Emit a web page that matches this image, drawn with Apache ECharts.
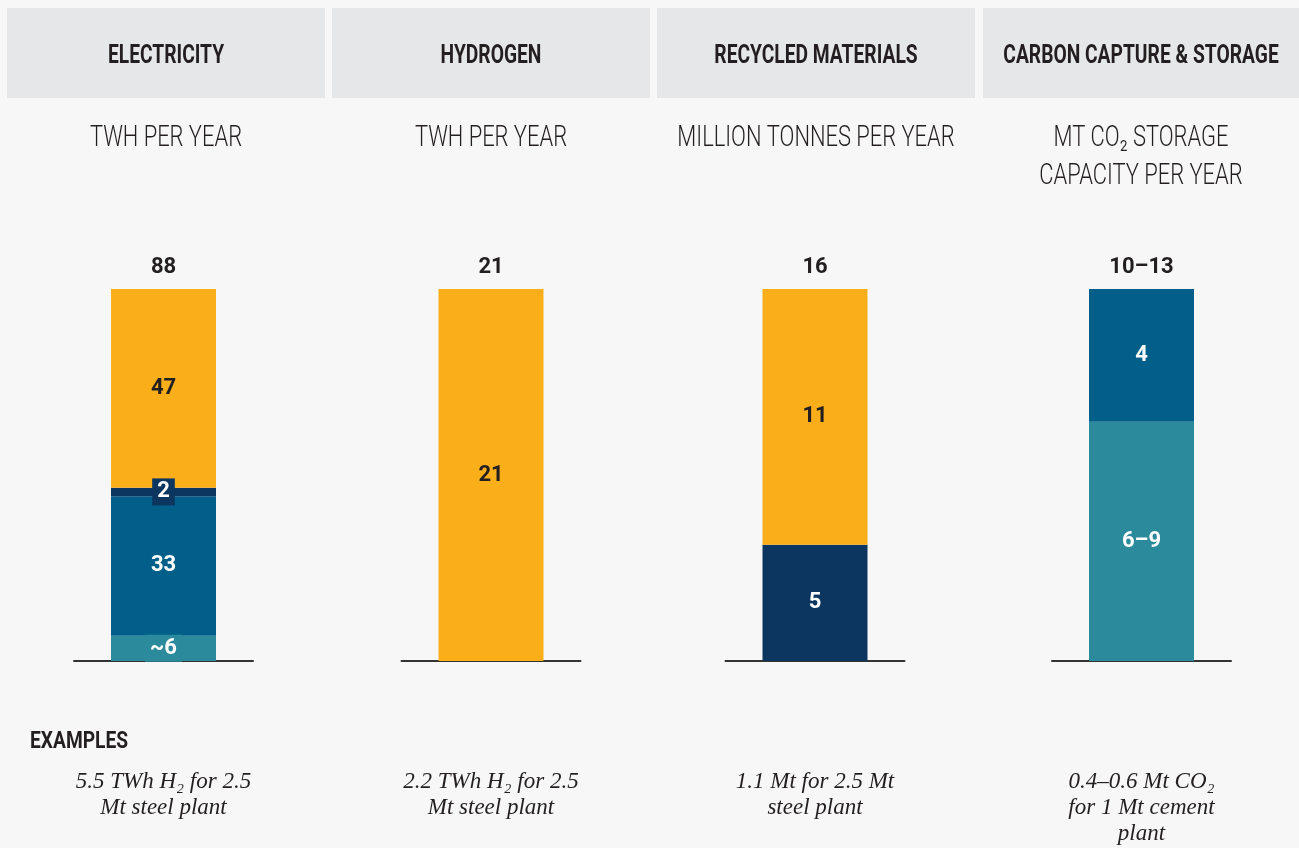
<!DOCTYPE html>
<html><head><meta charset="utf-8">
<script src="https://cdn.jsdelivr.net/npm/echarts@6/dist/echarts.min.js"></script>
<style>html,body{margin:0;padding:0;background:#f7f7f7}#c{width:1299px;height:848px}</style>
</head><body><div id="c"></div>
<script>
// ---- data ----
const panelTitles = ['ELECTRICITY', 'HYDROGEN', 'RECYCLED MATERIALS', 'CARBON CAPTURE & STORAGE'];
const unitLabels = ['TWH PER YEAR', 'TWH PER YEAR', 'MILLION TONNES PER YEAR', 'MT CO₂ STORAGE\nCAPACITY PER YEAR'];
const totalLabels = ['88', '21', '16', '10–13'];
const electricityValues = [6, 33, 2, 47];
const electricityLabels = ['~6', '33', '2', '47'];
const hydrogenValues = [21];
const hydrogenLabels = ['21'];
const recycledValues = [5, 11];
const recycledLabels = ['5', '11'];
const ccsValues = [7.2, 4];
const ccsLabels = ['6–9', '4'];
const exampleTexts = [
  '5.5 TWh H₂ for 2.5\nMt steel plant',
  '2.2 TWh H₂ for 2.5\nMt steel plant',
  '1.1 Mt for 2.5 Mt\nsteel plant',
  '0.4–0.6 Mt CO₂\nfor 1 Mt cement\nplant'
];

// ---- styling ----
const ORANGE = '#F9AE1A', NAVY = '#0C3660', BLUE = '#015F8A', TEAL = '#2B8A9C', INK = '#231f20';
const COND = "'Roboto','Liberation Sans',sans-serif";
const SERIF = "'Liberation Serif','DejaVu Serif',serif";
const panelData = [
  {values: electricityValues, labels: electricityLabels, colors: [TEAL, BLUE, NAVY, ORANGE], boxed: [true, false, true, false]},
  {values: hydrogenValues, labels: hydrogenLabels, colors: [ORANGE], boxed: [false]},
  {values: recycledValues, labels: recycledLabels, colors: [NAVY, ORANGE], boxed: [false, false]},
  {values: ccsValues, labels: ccsLabels, colors: [TEAL, BLUE], boxed: [false, false]}
];
const centers = [163.5, 491, 815, 1141.5];
const boxes = [[7, 325], [332, 650], [657, 975], [983, 1299]];

const grids = [], xAxes = [], yAxes = [], series = [], graphics = [];
panelData.forEach((p, i) => {
  const total = p.values.reduce((a, b) => a + b, 0);
  grids.push({left: centers[i] - 89.5, width: 179, top: 289, bottom: 187});
  xAxes.push({gridIndex: i, type: 'category', data: [panelTitles[i]],
    axisLine: {show: true, lineStyle: {color: '#333', width: 2}}, axisTick: {show: false}, axisLabel: {show: false}});
  xAxes.push({gridIndex: i, type: 'category', position: 'top', data: [totalLabels[i]],
    axisLine: {show: false}, axisTick: {show: false},
    axisLabel: {show: true, margin: 11, color: INK, fontFamily: COND, fontWeight: 'bold', fontSize: 22}});
  yAxes.push({gridIndex: i, type: 'value', min: 0, max: total, show: false, splitLine: {show: false}});
  p.values.forEach((v, j) => {
    const textColor = p.colors[j] === ORANGE ? INK : '#ffffff';
    series.push({
      type: 'bar', xAxisIndex: i * 2, yAxisIndex: i, stack: 's' + i, barWidth: 105,
      data: [v], itemStyle: {color: p.colors[j]},
      label: {show: true, position: 'inside', formatter: () => p.labels[j],
        color: textColor, fontFamily: COND, fontWeight: 'bold', fontSize: 22,
        backgroundColor: p.boxed[j] ? p.colors[j] : 'transparent',
        padding: p.boxed[j] ? [3, 5, 2, 5] : 0},
      silent: true, animation: false
    });
  });
  const cx = (boxes[i][0] + boxes[i][1]) / 2;
  graphics.push({type: 'rect', shape: {x: boxes[i][0], y: 8, width: boxes[i][1] - boxes[i][0], height: 90},
    style: {fill: '#E6E7E8'}, silent: true});
  graphics.push({type: 'text', x: cx, y: 56, scaleX: 0.74,
    style: {text: panelTitles[i], fill: INK, font: "bold 26px " + COND, textAlign: 'center', textVerticalAlign: 'middle'}});
  graphics.push({type: 'text', x: cx, y: 119, scaleX: 0.73,
    style: {text: unitLabels[i], fill: INK, font: "300 30px " + COND, textAlign: 'center', textVerticalAlign: 'top', lineHeight: 38}});
  graphics.push({type: 'text', x: centers[i], y: 769, scaleX: 1.0,
    style: {text: exampleTexts[i], fill: INK, font: "italic 23px " + SERIF, textAlign: 'center', textVerticalAlign: 'top', lineHeight: 26}});
});
graphics.push({type: 'text', x: 30, y: 742, scaleX: 0.8,
  style: {text: 'EXAMPLES', fill: INK, font: "bold 24px " + COND, textAlign: 'left', textVerticalAlign: 'middle'}});

const chart = echarts.init(document.getElementById('c'));
chart.setOption({
  backgroundColor: '#f7f7f7', animation: false,
  grid: grids, xAxis: xAxes, yAxis: yAxes, series: series, graphic: graphics
});
</script></body></html>
